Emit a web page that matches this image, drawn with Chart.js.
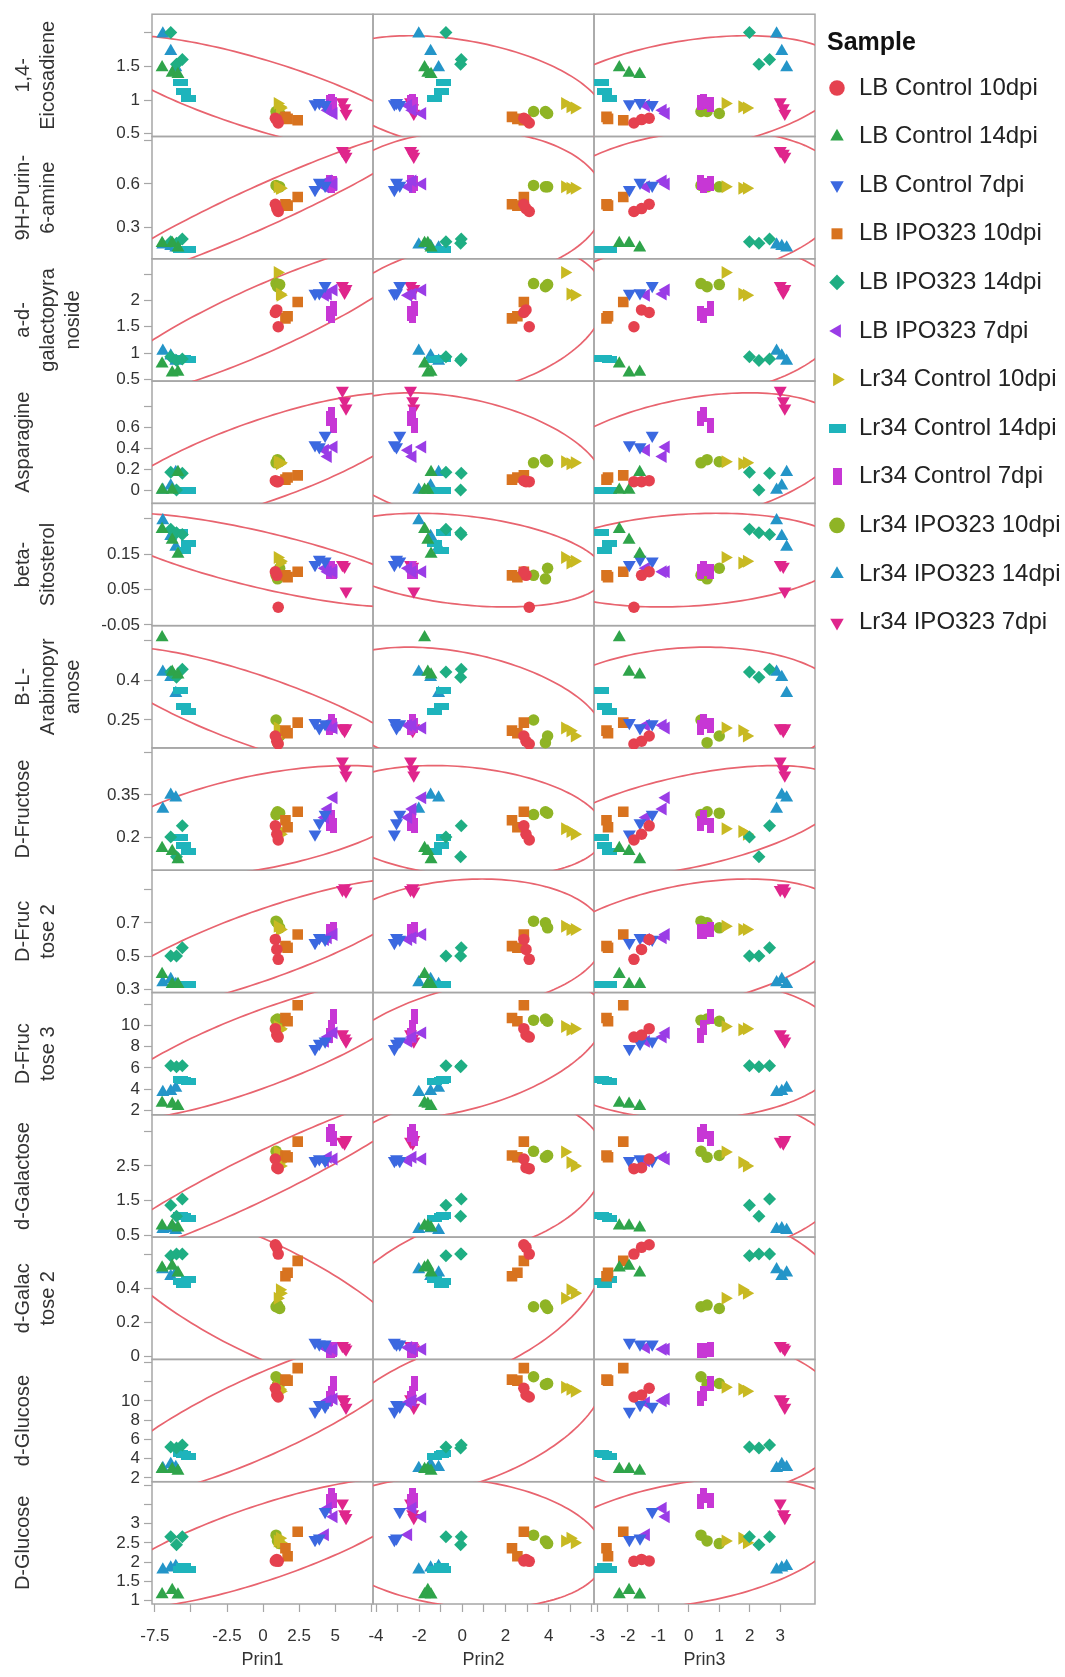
<!DOCTYPE html>
<html>
<head>
<meta charset="utf-8">
<title>Scatterplot Matrix</title>
<script src="https://cdn.jsdelivr.net/npm/chart.js@4.4.1/dist/chart.umd.min.js"></script>
<style>
  html, body { margin: 0; padding: 0; background: #fff; }
  #wrap { position: relative; width: 1065px; height: 1677px; }
</style>
</head>
<body>
<div id="wrap"><canvas id="matrix"></canvas></div>
<script>
const FONT = "'Liberation Sans', Arial, sans-serif";

const samples = [
  'LB Control 10dpi', 'LB Control 14dpi', 'LB Control 7dpi',
  'LB IPO323 10dpi', 'LB IPO323 14dpi', 'LB IPO323 7dpi',
  'Lr34 Control 10dpi', 'Lr34 Control 14dpi', 'Lr34 Control 7dpi',
  'Lr34 IPO323 10dpi', 'Lr34 IPO323 14dpi', 'Lr34 IPO323 7dpi'
];
const sampleColors = [
  '#e5414f', '#2fa44a', '#3b68e0', '#d8731f', '#1fae83', '#9a3ce6',
  '#c8b922', '#1eb4bc', '#c737d5', '#8fb425', '#2495c8', '#df258c'
];
const sampleShapes = ['circle', 'triangle', 'triangle', 'rect', 'rectRot', 'triangle',
  'triangle', 'hbar', 'vbar', 'circle', 'triangle', 'triangle'];
const sampleRotation = [0, 0, 180, 0, 0, 270, 90, 0, 0, 0, 0, 180];

// principal component scores, three replicates per sample
const prin1 = [
  [1.05, 0.95, 0.85], [-7.0, -6.3, -5.9], [3.6, 3.9, 4.3], [1.55, 1.7, 2.4],
  [-6.4, -6.0, -5.6], [4.3, 4.5, 4.9], [1.0, 1.15, 1.2], [-5.7, -5.5, -5.2],
  [4.6, 4.75, 4.9], [0.9, 1.0, 1.15], [-6.95, -6.4, -6.05], [5.5, 5.65, 5.75]
];
const prin2 = [
  [3.1, 2.95, 2.85], [-1.75, -1.6, -1.45], [-3.15, -3.05, -2.9], [2.3, 2.55, 2.85],
  [-0.76, -0.08, -0.05], [-2.5, -2.3, -1.85], [4.75, 5.0, 5.2], [-0.86, -0.98, -1.3],
  [-2.4, -2.3, -2.2], [3.3, 3.85, 3.95], [-2.02, -1.47, -1.1], [-2.4, -2.3, -2.25]
];
const prin3 = [
  [-1.8, -1.55, -1.3], [-2.28, -1.96, -1.61], [-1.95, -1.6, -1.2], [-2.7, -2.65, -2.15],
  [1.99, 2.3, 2.65], [-1.4, -0.85, -0.75], [1.2, 1.75, 1.9], [-2.85, -2.75, -2.6],
  [0.38, 0.49, 0.71], [0.4, 0.6, 1.0], [2.88, 3.05, 3.21], [3.0, 3.1, 3.15]
];

// metabolite levels, same sample / replicate order
const eicosadiene = [
  [0.66, 0.71, 0.73], [1.48, 1.4, 1.38], [0.94, 0.96, 0.93], [0.75, 0.72, 0.7],
  [2.0, 1.53, 1.6], [0.92, 0.85, 0.8], [0.95, 0.9, 0.88], [1.26, 1.13, 1.02],
  [0.96, 0.98, 0.93], [0.83, 0.83, 0.8], [1.98, 1.72, 1.48], [0.97, 0.88, 0.8]
];
const purinAmine = [
  [0.41, 0.43, 0.46], [0.19, 0.19, 0.16], [0.56, 0.61, 0.59], [0.46, 0.45, 0.51],
  [0.2, 0.19, 0.22], [0.58, 0.62, 0.6], [0.58, 0.57, 0.57], [0.15, 0.15, 0.15],
  [0.61, 0.59, 0.6], [0.59, 0.58, 0.58], [0.18, 0.17, 0.16], [0.83, 0.81, 0.79]
];
const galactopyranoside = [
  [1.5, 1.82, 1.77], [0.8, 0.63, 0.64], [2.13, 2.14, 2.28], [1.66, 1.7, 1.97],
  [0.93, 0.86, 0.89], [2.1, 2.12, 2.2], [2.53, 2.12, 2.1], [0.9, 0.89, 0.88],
  [1.75, 1.72, 1.84], [2.32, 2.26, 2.3], [1.04, 0.95, 0.85], [2.28, 2.15, 2.22]
];
const asparagine = [
  [0.08, 0.08, 0.09], [0.0, 0.0, 0.17], [0.43, 0.41, 0.52], [0.1, 0.12, 0.14],
  [0.17, 0.0, 0.16], [0.38, 0.32, 0.41], [0.27, 0.25, 0.26], [0.0, 0.0, 0.0],
  [0.68, 0.72, 0.62], [0.26, 0.29, 0.27], [0.0, 0.04, 0.17], [0.95, 0.85, 0.78]
];
const sitosterol = [
  [0.0, 0.09, 0.1], [0.22, 0.19, 0.15], [0.12, 0.135, 0.13], [0.09, 0.085, 0.1],
  [0.22, 0.21, 0.205], [0.11, 0.1, 0.1], [0.14, 0.125, 0.13], [0.21, 0.16, 0.18],
  [0.1, 0.11, 0.1], [0.09, 0.08, 0.11], [0.245, 0.2, 0.17], [0.12, 0.115, 0.045]
];
const arabinopyranose = [
  [0.16, 0.17, 0.19], [0.56, 0.43, 0.42], [0.24, 0.22, 0.235], [0.21, 0.2, 0.24],
  [0.43, 0.41, 0.44], [0.23, 0.23, 0.22], [0.22, 0.21, 0.19], [0.36, 0.3, 0.28],
  [0.22, 0.245, 0.23], [0.25, 0.165, 0.19], [0.43, 0.41, 0.35], [0.22, 0.21, 0.22]
];
const fructose = [
  [0.19, 0.21, 0.24], [0.16, 0.15, 0.12], [0.21, 0.25, 0.28], [0.26, 0.235, 0.29],
  [0.2, 0.13, 0.24], [0.27, 0.3, 0.34], [0.23, 0.22, 0.21], [0.2, 0.17, 0.15],
  [0.25, 0.27, 0.24], [0.28, 0.29, 0.285], [0.3, 0.35, 0.34], [0.47, 0.44, 0.42]
];
const fructose2 = [
  [0.48, 0.54, 0.6], [0.39, 0.33, 0.33], [0.58, 0.61, 0.6], [0.56, 0.55, 0.63],
  [0.5, 0.5, 0.55], [0.6, 0.61, 0.63], [0.68, 0.66, 0.66], [0.33, 0.33, 0.33],
  [0.65, 0.65, 0.66], [0.71, 0.7, 0.67], [0.34, 0.36, 0.33], [0.9, 0.91, 0.89]
];
const fructose3 = [
  [8.9, 9.1, 9.7], [2.7, 2.6, 2.4], [7.8, 8.3, 8.5], [10.7, 10.4, 11.9],
  [6.2, 6.1, 6.2], [8.5, 8.9, 9.3], [9.9, 9.6, 9.7], [4.9, 4.8, 4.7],
  [9.1, 9.8, 10.8], [10.5, 10.6, 10.4], [3.7, 3.8, 4.1], [9.2, 8.8, 8.5]
];
const galactose = [
  [2.42, 2.45, 2.7], [0.78, 0.78, 0.72], [2.65, 2.7, 2.65], [2.8, 2.75, 3.2],
  [1.37, 1.05, 1.55], [2.65, 2.75, 2.7], [2.9, 2.6, 2.5], [1.08, 1.05, 1.0],
  [3.4, 3.5, 3.3], [2.92, 2.75, 2.8], [0.68, 0.7, 0.65], [3.2, 3.15, 3.25]
];
const galactose2 = [
  [0.6, 0.64, 0.655], [0.52, 0.53, 0.49], [0.08, 0.07, 0.07], [0.47, 0.49, 0.56],
  [0.59, 0.6, 0.6], [0.05, 0.04, 0.04], [0.34, 0.39, 0.37], [0.44, 0.42, 0.45],
  [0.03, 0.03, 0.04], [0.29, 0.3, 0.28], [0.51, 0.47, 0.49], [0.06, 0.05, 0.04]
];
const glucoseLower = [
  [10.4, 10.6, 11.3], [2.9, 2.9, 2.7], [8.9, 9.6, 9.4], [12.2, 12.1, 13.4],
  [5.2, 5.1, 5.4], [9.8, 10.0, 10.2], [11.4, 11.2, 11.0], [4.5, 4.4, 4.2],
  [10.2, 10.8, 11.8], [12.5, 11.7, 11.8], [3.0, 3.4, 3.1], [10.2, 9.9, 9.3]
];
const glucoseUpper = [
  [2.02, 2.07, 2.03], [1.16, 1.27, 1.15], [2.58, 2.62, 3.31], [2.36, 2.15, 2.79],
  [2.66, 2.45, 2.66], [2.71, 3.4, 3.18], [2.55, 2.62, 2.5], [1.8, 1.88, 1.82],
  [3.57, 3.74, 3.61], [2.7, 2.55, 2.48], [1.8, 1.85, 1.89], [3.53, 3.25, 3.15]
];

const components = ['Prin1', 'Prin2', 'Prin3'];
const compRanges = [[-7.7, 7.62], [-4.14, 6.1], [-3.11, 4.14]];
const compTicks = [[-7.5, -5, -2.5, 0, 2.5, 5, 7.5], [-4, -3, -2, -1, 0, 1, 2, 3, 4, 5, 6], [-3, -2, -1, 0, 1, 2, 3]];
const compTickLabels = [[-7.5, -2.5, 0, 2.5, 5], [-4, -2, 0, 2, 4], [-3, -2, -1, 0, 1, 2, 3]];

const varTitles = [
  ['1,4-', 'Eicosadiene'], ['9H-Purin-', '6-amine'], ['a-d-', 'galactopyra', 'noside'],
  'Asparagine', ['beta-', 'Sitosterol'], ['B-L-', 'Arabinopyr', 'anose'], 'D-Fructose',
  ['D-Fruc', 'tose 2'], ['D-Fruc', 'tose 3'], 'd-Galactose', ['d-Galac', 'tose 2'],
  'd-Glucose', 'D-Glucose'
];
const varRanges = [
  [0.46, 2.27], [0.083, 0.928], [0.47, 2.79], [-0.127, 1.04], [-0.052, 0.293],
  [0.145, 0.604], [0.082, 0.517], [0.28, 1.017], [1.58, 13.1], [0.45, 3.97],
  [-0.02, 0.7], [1.6, 14.3], [0.91, 4.09]
];
const varTicks = [
  [0.5, 1, 1.5, 2], [0.3, 0.6, 0.9], [0.5, 1, 1.5, 2, 2.5], [0, 0.2, 0.4, 0.6, 0.8],
  [-0.05, 0.05, 0.15, 0.25], [0.25, 0.4, 0.55], [0.2, 0.35, 0.5], [0.3, 0.5, 0.7, 0.9],
  [2, 4, 6, 8, 10, 12], [0.5, 1.5, 2.5, 3.5], [0, 0.2, 0.4, 0.6], [2, 4, 6, 8, 10, 12, 14],
  [1, 1.5, 2, 2.5, 3, 3.5, 4]
];
const varTickLabels = [
  [0.5, 1, 1.5], [0.3, 0.6], [0.5, 1, 1.5, 2], [0, 0.2, 0.4, 0.6],
  [-0.05, 0.05, 0.15], [0.25, 0.4], [0.2, 0.35], [0.3, 0.5, 0.7],
  [2, 4, 6, 8, 10], [0.5, 1.5, 2.5], [0, 0.2, 0.4], [2, 4, 6, 8, 10],
  [1, 1.5, 2, 2.5, 3]
];

const scores = [prin1, prin2, prin3];
const metabolites = [eicosadiene, purinAmine, galactopyranoside, asparagine, sitosterol,
  arabinopyranose, fructose, fructose2, fructose3, galactose, galactose2, glucoseLower, glucoseUpper];

const ELLIPSE_COLOR = '#e8646f';
const FRAME_COLOR = '#a6a6a6';
const TEXT_COLOR = '#333';
const CHI2_95 = 5.991; // 2 dof, 95 % coverage

// bars are not built-in point styles, so paint them on small canvases
function barCanvas(color, w, h) {
  const c = document.createElement('canvas');
  c.width = w;
  c.height = h;
  const g = c.getContext('2d');
  g.fillStyle = color;
  g.fillRect(0, 0, w, h);
  return c;
}

function markerStyle(g, big) {
  const shape = sampleShapes[g];
  if (shape === 'hbar') return big ? barCanvas(sampleColors[g], 17, 9) : barCanvas(sampleColors[g], 15, 7);
  if (shape === 'vbar') return big ? barCanvas(sampleColors[g], 9, 17) : barCanvas(sampleColors[g], 7, 15);
  return shape;
}

const markerRadius = { circle: 5.75, triangle: 7.5, rect: 7.5, rectRot: 6.5, hbar: 7, vbar: 7 };

// 95% bivariate normal density ellipse from sample mean and covariance
function densityEllipse(xs, ys) {
  const n = xs.length;
  const mx = xs.reduce((a, b) => a + b, 0) / n;
  const my = ys.reduce((a, b) => a + b, 0) / n;
  let sxx = 0, syy = 0, sxy = 0;
  for (let i = 0; i < n; i++) {
    sxx += (xs[i] - mx) ** 2;
    syy += (ys[i] - my) ** 2;
    sxy += (xs[i] - mx) * (ys[i] - my);
  }
  sxx /= n - 1; syy /= n - 1; sxy /= n - 1;
  const a = Math.sqrt(sxx);
  const b = sxy / a;
  const c = Math.sqrt(Math.max(syy - b * b, 0));
  const k = Math.sqrt(CHI2_95);
  const pts = [];
  for (let i = 0; i <= 180; i++) {
    const t = (i / 180) * 2 * Math.PI;
    pts.push({ x: mx + k * a * Math.cos(t), y: my + k * (b * Math.cos(t) + c * Math.sin(t)) });
  }
  return pts;
}

const datasets = [];
metabolites.forEach((values, r) => {
  scores.forEach((score, c) => {
    samples.forEach((name, g) => {
      datasets.push({
        label: name,
        data: score[g].map((x, k) => ({ x, y: values[g][k] })),
        xAxisID: 'x' + c,
        yAxisID: 'y' + r,
        pointStyle: markerStyle(g, false),
        pointRotation: sampleRotation[g],
        pointRadius: markerRadius[sampleShapes[g]],
        backgroundColor: sampleColors[g],
        borderColor: sampleColors[g],
        pointBorderWidth: 0,
        clip: 1
      });
    });
  });
});
metabolites.forEach((values, r) => {
  scores.forEach((score, c) => {
    datasets.push({
      label: 'ellipse',
      data: densityEllipse(score.flat(), values.flat()),
      xAxisID: 'x' + c,
      yAxisID: 'y' + r,
      showLine: true,
      pointRadius: 0,
      borderColor: ELLIPSE_COLOR,
      borderWidth: 1.7,
      fill: false,
      clip: 0
    });
  });
});

const scales = {};
components.forEach((name, c) => {
  scales['x' + c] = {
    type: 'linear', axis: 'x', position: 'bottom',
    stack: 'cols', stackWeight: 1, weight: c + 1,
    min: compRanges[c][0], max: compRanges[c][1],
    afterBuildTicks: s => { s.ticks = compTicks[c].map(value => ({ value })); },
    afterFit: s => { s.height = 73; },
    grid: { drawOnChartArea: false, tickLength: 8, tickColor: FRAME_COLOR, tickWidth: 1.2 },
    border: { display: false },
    ticks: {
      autoSkip: false, maxRotation: 0, padding: 14, color: TEXT_COLOR,
      font: { family: FONT, size: 17 },
      callback: v => compTickLabels[c].includes(v) ? String(v) : ''
    },
    title: {
      display: true, text: name, color: TEXT_COLOR,
      font: { family: FONT, size: 18 }, padding: { top: 0, bottom: 6 }
    }
  };
});
varTitles.forEach((title, r) => {
  scales['y' + r] = {
    type: 'linear', axis: 'y', position: 'left',
    stack: 'rows', stackWeight: 1, weight: varTitles.length - r,
    min: varRanges[r][0], max: varRanges[r][1],
    afterBuildTicks: s => { s.ticks = varTicks[r].map(value => ({ value })); },
    afterFit: s => { s.width = 152; },
    grid: { drawOnChartArea: false, tickLength: 8, tickColor: FRAME_COLOR, tickWidth: 1.2 },
    border: { display: false },
    ticks: {
      autoSkip: false, padding: 4, color: TEXT_COLOR,
      font: { family: FONT, size: 17 },
      callback: v => varTickLabels[r].includes(v) ? String(v) : ''
    },
    title: {
      display: true, text: title, color: TEXT_COLOR,
      font: { family: FONT, size: 20, lineHeight: 1.25 }, padding: { top: 11, bottom: 0 }
    }
  };
});

// grey frame around every cell of the matrix
const cellFrames = {
  id: 'cellFrames',
  beforeDatasetsDraw(chart) {
    const { ctx } = chart;
    ctx.save();
    ctx.strokeStyle = FRAME_COLOR;
    ctx.lineWidth = 1.5;
    components.forEach((_, c) => {
      const xs = chart.scales['x' + c];
      metabolites.forEach((_, r) => {
        const ys = chart.scales['y' + r];
        ctx.strokeRect(xs.left, ys.top, xs.right - xs.left, ys.bottom - ys.top);
      });
    });
    ctx.restore();
  }
};

// leave a small gap between the matrix and the legend, and let the legend
// run to the right edge of the canvas so long labels are not clipped
const legendGap = {
  id: 'legendGap',
  afterLayout(chart) {
    const legend = chart.legend;
    legend.left += 12;
    legend.right = chart.width;
    legend.width = legend.right - legend.left;
  }
};

new Chart(document.getElementById('matrix'), {
  type: 'scatter',
  data: { datasets },
  options: {
    responsive: true,
    maintainAspectRatio: false,
    animation: false,
    events: [],
    layout: { padding: { top: 8, right: 30, bottom: 0, left: 0 } },
    scales,
    plugins: {
      tooltip: { enabled: false },
      legend: {
        position: 'right',
        align: 'start',
        maxWidth: 220,
        title: {
          display: true, text: 'Sample', color: '#111', position: 'start',
          font: { family: FONT, size: 25, weight: 'bold', lineHeight: 1.2 },
          padding: { top: 22.5, bottom: 15.5 }
        },
        labels: {
          usePointStyle: true,
          boxWidth: 20,
          boxHeight: 11,
          padding: 0,
          color: '#222',
          font: { family: FONT, size: 24, lineHeight: 2.025 },
          generateLabels: () => samples.map((name, g) => ({
            text: [name],
            fillStyle: sampleColors[g],
            strokeStyle: sampleColors[g],
            fontColor: '#222',
            lineWidth: 0,
            pointStyle: markerStyle(g, true),
            rotation: sampleRotation[g],
            hidden: false,
            datasetIndex: g
          }))
        }
      }
    }
  },
  plugins: [cellFrames, legendGap]
});
</script>
</body>
</html>
